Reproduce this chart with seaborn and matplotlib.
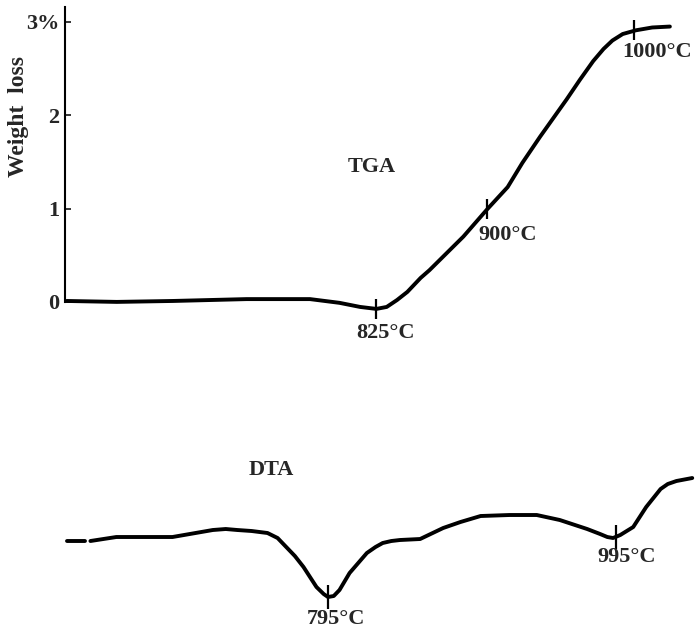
import numpy as np
import matplotlib
matplotlib.use('Agg')
import matplotlib.pyplot as plt
import seaborn as sns

# --- Datos ---
# TGA: temperatura (°C) y pérdida de peso (%)
tga_temp = [615, 649, 687, 737, 780, 800, 814, 825, 832, 839, 846, 855, 861,
            884, 900, 914, 924, 936, 954, 963, 972, 979, 985, 992, 1001, 1012, 1024]
tga_loss = [0.01, 0.0, 0.01, 0.03, 0.03, -0.01, -0.054, -0.075, -0.054, 0.02, 0.107,
            0.257, 0.34, 0.70, 0.99, 1.23, 1.49, 1.77, 2.17, 2.38, 2.58, 2.71,
            2.80, 2.87, 2.91, 2.94, 2.95]
tga_marks = [825, 900, 1000]
tga_mark_vals = [-0.075, 0.99, 2.91]
tga_mark_labels = ['825°C', '900°C', '1000°C']

# DTA: temperatura (°C) y señal (unidades arbitrarias)
dta_temp = [614, 626, 630, 648, 687, 715, 724, 732, 742, 753, 760, 766, 772,
            778, 787, 792, 795, 799, 803, 810, 822, 828, 833, 839, 845, 859,
            875, 887, 901, 921, 940, 956, 975, 984, 989, 993, 998, 1007, 1016,
            1026, 1031, 1037, 1048]
dta_sig = [-0.1, -0.1, -0.1, 0.3, 0.3, 1.0, 1.1, 1.0, 0.9, 0.7, 0.2, -0.7, -1.6,
           -2.7, -4.7, -5.4, -5.7, -5.6, -5.0, -3.3, -1.3, -0.7, -0.3, -0.1, 0.0,
           0.1, 1.2, 1.8, 2.4, 2.5, 2.5, 2.0, 1.1, 0.6, 0.3, 0.2, 0.5, 1.3, 3.3,
           5.1, 5.6, 5.9, 6.2]
dta_marks = [795, 995]
dta_mark_vals = [-5.7, 0.3]
dta_mark_labels = ['795°C', '995°C']

yticks = [0, 1, 2, 3]
ytick_labels = ['0', '1', '2', '3%']

sns.set_style('white')
plt.rcParams['font.family'] = ['Liberation Serif', 'DejaVu Serif']
FS = 16
LW = 2.8
line_kw = dict(color='black', linewidth=LW, sort=False, estimator=None,
               solid_capstyle='round', solid_joinstyle='round')

fig = plt.figure(figsize=(6.96, 6.32), dpi=100)

# --- Panel TGA ---
ax1 = fig.add_axes([65 / 696, 0.478, 631 / 696, 0.511])
sns.lineplot(x=tga_temp, y=tga_loss, ax=ax1, **line_kw)
ax1.plot(tga_marks, tga_mark_vals, linestyle='none', marker='|', color='black',
         markersize=15, markeredgewidth=1.6)
ax1.set_xlim(613.9, 1041.7)
ax1.set_ylim(-0.3, 3.16)
ax1.set_yticks(yticks)
ax1.set_yticklabels(ytick_labels, fontsize=FS, fontweight='bold')
ax1.set_xticks([])
ax1.tick_params(axis='y', direction='in', length=4, width=1.3, pad=4, left=True)
for s in ['top', 'right', 'bottom']:
    ax1.spines[s].set_visible(False)
ax1.spines['left'].set_bounds(0, 3.16)
ax1.spines['left'].set_linewidth(1.5)
ax1.spines['left'].set_color('black')
ax1.set_ylabel('Weight  loss', fontsize=17, fontweight='bold', va='center')
ax1.yaxis.set_label_coords(-0.074, 0.66)
ax1.patch.set_alpha(0)

ax1.text(822, 1.45, 'TGA', fontsize=FS, fontweight='bold', ha='center', va='center')
label_pos1 = [(831.5, -0.33), (914, 0.72), (1015, 2.68)]
for (tx, ty), lab in zip(label_pos1, tga_mark_labels):
    ax1.text(tx, ty, lab, fontsize=FS, fontweight='bold', ha='center', va='center')

# --- Panel DTA ---
ax2 = fig.add_axes([0, 0.00316, 1, 0.2927])
sns.lineplot(x=dta_temp[:2], y=dta_sig[:2], ax=ax2, **line_kw)
sns.lineplot(x=dta_temp[2:], y=dta_sig[2:], ax=ax2, **line_kw)
ax2.plot(dta_marks, dta_mark_vals, linestyle='none', marker='|', color='black',
         markersize=17, markeredgewidth=1.6)
ax2.set_xlim(567.2, 1050.6)
ax2.set_ylim(-9, 9.5)
ax2.axis('off')

ax2.text(755.4, 7.0, 'DTA', fontsize=FS, fontweight='bold', ha='center', va='center')
label_pos2 = [(800.6, -7.9), (1002.6, -1.7)]
for (tx, ty), lab in zip(label_pos2, dta_mark_labels):
    ax2.text(tx, ty, lab, fontsize=FS, fontweight='bold', ha='center', va='center')

fig.savefig('out.png', dpi=100)
